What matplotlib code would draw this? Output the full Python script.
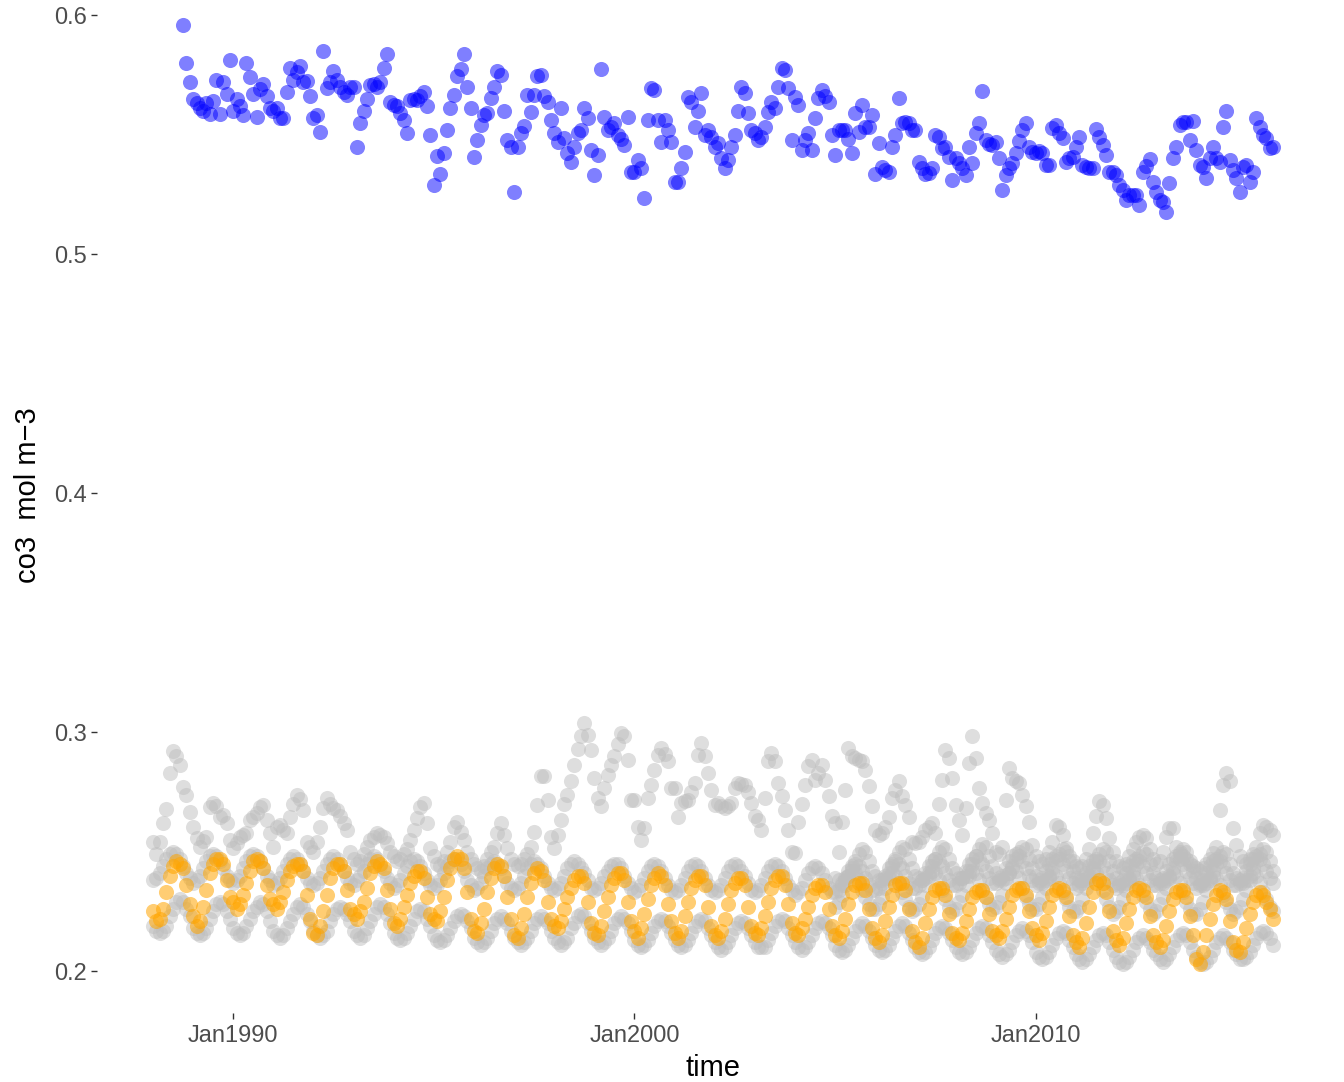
import numpy as np
import pandas as pd
import matplotlib
matplotlib.use("Agg")
import matplotlib.pyplot as plt

plt.rcParams['font.family'] = ['Liberation Sans', 'DejaVu Sans']

# monthly values, one row per year
# blue series starts Oct 1988
blue_rows = [
    [0.596, 0.580, 0.572],
    [0.565, 0.563, 0.561, 0.560, 0.563, 0.5585, 0.564, 0.573, 0.5585, 0.572, 0.567, 0.581],
    [0.560, 0.565, 0.562, 0.558, 0.580, 0.574, 0.567, 0.5575, 0.569, 0.571, 0.566, 0.561],
    [0.5597, 0.561, 0.557, 0.5568, 0.568, 0.578, 0.573, 0.576, 0.5785, 0.572, 0.5724, 0.5663],
    [0.5568, 0.558, 0.551, 0.5848, 0.5694, 0.572, 0.5767, 0.573, 0.570, 0.568, 0.5666, 0.570],
    [0.570, 0.545, 0.5547, 0.560, 0.565, 0.5707, 0.571, 0.570, 0.572, 0.578, 0.5836, 0.5635],
    [0.5623, 0.562, 0.559, 0.556, 0.5505, 0.5645, 0.565, 0.5645, 0.566, 0.568, 0.562, 0.550],
    [0.5289, 0.541, 0.5337, 0.5421, 0.552, 0.561, 0.5665, 0.5744, 0.5773, 0.5838, 0.570, 0.5613],
    [0.5405, 0.5477, 0.554, 0.5582, 0.5589, 0.5655, 0.570, 0.5764, 0.575, 0.560, 0.5477, 0.545],
    [0.526, 0.545, 0.5505, 0.5535, 0.5666, 0.5593, 0.5666, 0.5743, 0.575, 0.566, 0.5638, 0.556],
    [0.5505, 0.547, 0.561, 0.5484, 0.5421, 0.5387, 0.545, 0.5505, 0.5519, 0.561, 0.5568, 0.5435],
    [0.533, 0.5414, 0.5774, 0.5575, 0.5519, 0.553, 0.5547, 0.5498, 0.548, 0.5456, 0.5575, 0.5345],
    [0.5345, 0.5393, 0.5358, 0.5233, 0.5561, 0.5694, 0.5687, 0.556, 0.547, 0.5561, 0.552, 0.547],
    [0.5303, 0.5303, 0.5358, 0.5428, 0.5659, 0.5638, 0.5533, 0.560, 0.5673, 0.5498, 0.552, 0.5491],
    [0.545, 0.5463, 0.540, 0.5358, 0.5393, 0.545, 0.5498, 0.560, 0.5701, 0.5673, 0.5589, 0.5519],
    [0.5505, 0.5477, 0.5491, 0.5533, 0.5596, 0.5638, 0.561, 0.570, 0.5778, 0.5771, 0.5694, 0.5477],
    [0.5659, 0.5624, 0.5435, 0.5477, 0.5505, 0.5435, 0.5568, 0.5652, 0.5687, 0.566, 0.5638, 0.550],
    [0.5414, 0.5519, 0.552, 0.5519, 0.548, 0.5421, 0.5589, 0.5512, 0.5624, 0.5533, 0.5533, 0.5582],
    [0.5337, 0.5463, 0.5366, 0.535, 0.5345, 0.545, 0.5498, 0.5655, 0.5547, 0.5554, 0.5547, 0.552],
    [0.5519, 0.5387, 0.536, 0.5337, 0.534, 0.5358, 0.5498, 0.5491, 0.5442, 0.545, 0.5407, 0.5309],
    [0.540, 0.538, 0.536, 0.533, 0.545, 0.5379, 0.5505, 0.555, 0.5683, 0.5477, 0.546, 0.5456],
    [0.547, 0.540, 0.5267, 0.533, 0.536, 0.5379, 0.5421, 0.5473, 0.5519, 0.5547, 0.545, 0.5428],
    [0.5421, 0.543, 0.5421, 0.5372, 0.5372, 0.5526, 0.554, 0.5505, 0.5484, 0.5387, 0.540, 0.5407],
    [0.545, 0.5491, 0.5372, 0.5366, 0.536, 0.5358, 0.5523, 0.5491, 0.5456, 0.5414, 0.5345, 0.5345],
    [0.533, 0.5289, 0.527, 0.5226, 0.5247, 0.5247, 0.5247, 0.5205, 0.5345, 0.537, 0.5396, 0.530],
    [0.526, 0.5226, 0.5219, 0.5177, 0.5296, 0.540, 0.545, 0.554, 0.5554, 0.5554, 0.5477, 0.5557],
    [0.5435, 0.5372, 0.5366, 0.5317, 0.540, 0.545, 0.540, 0.5387, 0.5533, 0.5599, 0.5393, 0.535],
    [0.5317, 0.526, 0.5366, 0.5372, 0.5303, 0.5345, 0.5571, 0.553, 0.5498, 0.5484, 0.5445, 0.545],
]

# orange series, Jan 1988 - Dec 2015
orange_rows = [
    [0.225, 0.221, 0.222, 0.226, 0.233, 0.240, 0.244, 0.246, 0.245, 0.243, 0.236, 0.228],
    [0.223, 0.219, 0.221, 0.227, 0.234, 0.241, 0.245, 0.247, 0.247, 0.245, 0.238, 0.231],
    [0.229, 0.226, 0.228, 0.232, 0.237, 0.242, 0.246, 0.247, 0.246, 0.243, 0.236, 0.230],
    [0.228, 0.226, 0.229, 0.233, 0.238, 0.242, 0.244, 0.245, 0.245, 0.242, 0.232, 0.222],
    [0.216, 0.215, 0.219, 0.225, 0.232, 0.239, 0.243, 0.245, 0.245, 0.242, 0.234, 0.226],
    [0.224, 0.222, 0.225, 0.229, 0.235, 0.241, 0.244, 0.246, 0.245, 0.243, 0.234, 0.226],
    [0.220, 0.219, 0.222, 0.227, 0.232, 0.237, 0.240, 0.242, 0.242, 0.239, 0.231, 0.224],
    [0.222, 0.221, 0.225, 0.231, 0.238, 0.243, 0.247, 0.248, 0.247, 0.243, 0.233, 0.222],
    [0.217, 0.216, 0.220, 0.226, 0.233, 0.239, 0.243, 0.245, 0.244, 0.240, 0.231, 0.222],
    [0.215, 0.214, 0.218, 0.224, 0.231, 0.237, 0.241, 0.243, 0.242, 0.238, 0.229, 0.222],
    [0.219, 0.218, 0.221, 0.226, 0.231, 0.235, 0.238, 0.240, 0.240, 0.237, 0.229, 0.220],
    [0.216, 0.215, 0.219, 0.225, 0.231, 0.236, 0.239, 0.241, 0.241, 0.238, 0.229, 0.221],
    [0.217, 0.214, 0.218, 0.224, 0.230, 0.236, 0.239, 0.241, 0.240, 0.236, 0.228, 0.221],
    [0.216, 0.214, 0.217, 0.223, 0.229, 0.235, 0.238, 0.240, 0.240, 0.236, 0.227, 0.219],
    [0.215, 0.214, 0.217, 0.222, 0.228, 0.234, 0.237, 0.239, 0.239, 0.236, 0.227, 0.219],
    [0.216, 0.215, 0.218, 0.223, 0.229, 0.235, 0.238, 0.240, 0.240, 0.236, 0.228, 0.220],
    [0.216, 0.215, 0.218, 0.222, 0.227, 0.232, 0.235, 0.236, 0.236, 0.233, 0.226, 0.219],
    [0.215, 0.214, 0.217, 0.222, 0.228, 0.233, 0.236, 0.237, 0.237, 0.234, 0.226, 0.218],
    [0.214, 0.212, 0.215, 0.221, 0.227, 0.232, 0.236, 0.237, 0.237, 0.234, 0.226, 0.217],
    [0.212, 0.210, 0.214, 0.220, 0.226, 0.231, 0.234, 0.235, 0.235, 0.232, 0.224, 0.216],
    [0.214, 0.213, 0.216, 0.221, 0.226, 0.231, 0.233, 0.234, 0.234, 0.231, 0.224, 0.217],
    [0.215, 0.214, 0.217, 0.222, 0.227, 0.232, 0.234, 0.235, 0.235, 0.232, 0.225, 0.218],
    [0.215, 0.213, 0.216, 0.221, 0.227, 0.232, 0.234, 0.235, 0.234, 0.231, 0.223, 0.215],
    [0.212, 0.210, 0.214, 0.220, 0.227, 0.233, 0.237, 0.238, 0.237, 0.233, 0.225, 0.217],
    [0.213, 0.211, 0.214, 0.220, 0.226, 0.231, 0.234, 0.235, 0.234, 0.231, 0.223, 0.215],
    [0.212, 0.210, 0.213, 0.219, 0.225, 0.230, 0.233, 0.234, 0.234, 0.231, 0.223, 0.215],
    [0.205, 0.203, 0.208, 0.215, 0.222, 0.228, 0.232, 0.234, 0.233, 0.230, 0.221, 0.212],
    [0.209, 0.208, 0.212, 0.218, 0.224, 0.229, 0.232, 0.233, 0.232, 0.229, 0.226, 0.222],
]

# grey series, lower smooth cycle, Jan 1988 - Dec 2015
grey_low_rows = [
    [0.219, 0.217, 0.216, 0.217, 0.219, 0.223, 0.226, 0.229, 0.230, 0.229, 0.226, 0.223],
    [0.218, 0.216, 0.215, 0.216, 0.218, 0.222, 0.225, 0.228, 0.229, 0.228, 0.225, 0.222],
    [0.218, 0.216, 0.215, 0.216, 0.219, 0.222, 0.225, 0.227, 0.229, 0.228, 0.225, 0.221],
    [0.217, 0.215, 0.214, 0.215, 0.218, 0.221, 0.224, 0.227, 0.228, 0.227, 0.224, 0.221],
    [0.217, 0.215, 0.214, 0.215, 0.217, 0.221, 0.224, 0.226, 0.227, 0.226, 0.224, 0.221],
    [0.217, 0.215, 0.214, 0.215, 0.218, 0.221, 0.224, 0.227, 0.228, 0.227, 0.224, 0.220],
    [0.216, 0.214, 0.213, 0.214, 0.216, 0.219, 0.222, 0.225, 0.226, 0.225, 0.222, 0.219],
    [0.215, 0.213, 0.212, 0.213, 0.215, 0.218, 0.221, 0.223, 0.224, 0.223, 0.221, 0.218],
    [0.214, 0.212, 0.211, 0.212, 0.214, 0.217, 0.220, 0.222, 0.223, 0.222, 0.220, 0.217],
    [0.214, 0.212, 0.211, 0.212, 0.214, 0.217, 0.220, 0.222, 0.223, 0.222, 0.220, 0.217],
    [0.214, 0.212, 0.211, 0.212, 0.214, 0.218, 0.220, 0.223, 0.224, 0.223, 0.220, 0.217],
    [0.214, 0.212, 0.211, 0.212, 0.214, 0.217, 0.220, 0.222, 0.223, 0.222, 0.220, 0.217],
    [0.213, 0.211, 0.210, 0.211, 0.213, 0.216, 0.219, 0.221, 0.222, 0.221, 0.219, 0.216],
    [0.213, 0.211, 0.210, 0.211, 0.213, 0.216, 0.219, 0.221, 0.222, 0.221, 0.218, 0.215],
    [0.212, 0.210, 0.209, 0.210, 0.212, 0.215, 0.218, 0.220, 0.221, 0.220, 0.218, 0.215],
    [0.212, 0.210, 0.210, 0.210, 0.213, 0.216, 0.219, 0.221, 0.222, 0.221, 0.218, 0.215],
    [0.212, 0.210, 0.209, 0.210, 0.212, 0.215, 0.218, 0.220, 0.221, 0.220, 0.218, 0.215],
    [0.211, 0.209, 0.208, 0.209, 0.211, 0.214, 0.217, 0.219, 0.220, 0.219, 0.217, 0.214],
    [0.211, 0.209, 0.208, 0.209, 0.211, 0.214, 0.217, 0.219, 0.220, 0.219, 0.216, 0.213],
    [0.210, 0.208, 0.207, 0.208, 0.210, 0.213, 0.216, 0.218, 0.219, 0.218, 0.216, 0.213],
    [0.210, 0.208, 0.207, 0.208, 0.210, 0.213, 0.216, 0.218, 0.219, 0.218, 0.215, 0.212],
    [0.209, 0.207, 0.206, 0.207, 0.209, 0.212, 0.215, 0.217, 0.218, 0.217, 0.215, 0.212],
    [0.208, 0.206, 0.205, 0.206, 0.208, 0.211, 0.214, 0.216, 0.217, 0.216, 0.213, 0.210],
    [0.207, 0.205, 0.204, 0.205, 0.207, 0.210, 0.213, 0.215, 0.216, 0.215, 0.212, 0.209],
    [0.206, 0.204, 0.203, 0.204, 0.206, 0.209, 0.212, 0.214, 0.215, 0.214, 0.212, 0.209],
    [0.207, 0.205, 0.204, 0.205, 0.207, 0.210, 0.213, 0.215, 0.216, 0.215, 0.212, 0.209],
    [0.206, 0.204, 0.203, 0.204, 0.206, 0.209, 0.212, 0.214, 0.215, 0.214, 0.212, 0.209],
    [0.207, 0.205, 0.205, 0.206, 0.208, 0.211, 0.214, 0.216, 0.217, 0.216, 0.214, 0.211],
]

# grey series, middle band, Jan 1988 - Dec 2015
grey_mid_rows = [
    [0.238, 0.239, 0.241, 0.244, 0.247, 0.249, 0.250, 0.249, 0.247, 0.244, 0.241, 0.239],
    [0.237, 0.238, 0.240, 0.243, 0.246, 0.248, 0.249, 0.248, 0.246, 0.243, 0.240, 0.238],
    [0.237, 0.238, 0.240, 0.243, 0.246, 0.248, 0.249, 0.248, 0.246, 0.243, 0.240, 0.238],
    [0.236, 0.237, 0.239, 0.242, 0.245, 0.247, 0.248, 0.247, 0.245, 0.242, 0.239, 0.237],
    [0.236, 0.237, 0.239, 0.242, 0.245, 0.247, 0.248, 0.247, 0.245, 0.242, 0.239, 0.237],
    [0.236, 0.238, 0.240, 0.242, 0.245, 0.247, 0.248, 0.247, 0.244, 0.242, 0.239, 0.237],
    [0.235, 0.236, 0.238, 0.241, 0.244, 0.246, 0.247, 0.246, 0.244, 0.241, 0.238, 0.236],
    [0.235, 0.236, 0.238, 0.241, 0.244, 0.246, 0.247, 0.247, 0.245, 0.242, 0.238, 0.236],
    [0.234, 0.235, 0.237, 0.240, 0.243, 0.245, 0.246, 0.245, 0.243, 0.240, 0.237, 0.235],
    [0.234, 0.235, 0.237, 0.240, 0.243, 0.245, 0.246, 0.245, 0.243, 0.240, 0.237, 0.235],
    [0.234, 0.235, 0.237, 0.240, 0.243, 0.245, 0.246, 0.245, 0.243, 0.241, 0.238, 0.235],
    [0.234, 0.235, 0.237, 0.240, 0.242, 0.244, 0.245, 0.245, 0.243, 0.240, 0.237, 0.235],
    [0.233, 0.234, 0.236, 0.239, 0.242, 0.244, 0.245, 0.244, 0.242, 0.239, 0.236, 0.234],
    [0.233, 0.234, 0.236, 0.239, 0.242, 0.244, 0.245, 0.244, 0.242, 0.239, 0.236, 0.234],
    [0.233, 0.234, 0.236, 0.239, 0.242, 0.244, 0.245, 0.244, 0.242, 0.240, 0.237, 0.234],
    [0.233, 0.234, 0.236, 0.239, 0.242, 0.244, 0.245, 0.244, 0.242, 0.239, 0.236, 0.234],
    [0.232, 0.233, 0.235, 0.238, 0.241, 0.243, 0.244, 0.243, 0.241, 0.238, 0.235, 0.233],
    [0.233, 0.234, 0.236, 0.239, 0.242, 0.244, 0.245, 0.244, 0.242, 0.239, 0.236, 0.234],
    [0.234, 0.235, 0.237, 0.240, 0.243, 0.245, 0.246, 0.245, 0.243, 0.240, 0.237, 0.235],
    [0.235, 0.236, 0.238, 0.241, 0.244, 0.246, 0.247, 0.246, 0.244, 0.241, 0.238, 0.236],
    [0.236, 0.237, 0.239, 0.242, 0.245, 0.247, 0.248, 0.247, 0.245, 0.242, 0.239, 0.237],
    [0.237, 0.238, 0.240, 0.243, 0.246, 0.248, 0.249, 0.248, 0.246, 0.243, 0.240, 0.238],
    [0.236, 0.237, 0.239, 0.242, 0.245, 0.247, 0.248, 0.247, 0.245, 0.242, 0.239, 0.237],
    [0.235, 0.236, 0.238, 0.241, 0.244, 0.246, 0.247, 0.246, 0.244, 0.241, 0.238, 0.236],
    [0.235, 0.236, 0.238, 0.241, 0.244, 0.246, 0.247, 0.246, 0.244, 0.241, 0.238, 0.236],
    [0.236, 0.237, 0.239, 0.242, 0.245, 0.247, 0.248, 0.247, 0.245, 0.242, 0.239, 0.237],
    [0.235, 0.236, 0.238, 0.241, 0.244, 0.246, 0.247, 0.246, 0.244, 0.241, 0.238, 0.236],
    [0.236, 0.237, 0.239, 0.242, 0.245, 0.247, 0.248, 0.247, 0.245, 0.242, 0.239, 0.237],
]

# grey series, noisy upper one, Jan 1988 - Dec 2015
grey_high_rows = [
    [0.254, 0.249, 0.254, 0.262, 0.268, 0.283, 0.292, 0.290, 0.2864, 0.2772, 0.2738, 0.2667],
    [0.2604, 0.2558, 0.252, 0.2545, 0.2562, 0.2688, 0.2704, 0.269, 0.2646, 0.2654, 0.262, 0.255],
    [0.2516, 0.2537, 0.2562, 0.257, 0.2579, 0.2633, 0.2646, 0.266, 0.2688, 0.2696, 0.2633, 0.258],
    [0.252, 0.2604, 0.2612, 0.259, 0.2579, 0.2646, 0.270, 0.2738, 0.272, 0.2675, 0.2541, 0.252],
    [0.250, 0.2541, 0.2604, 0.2683, 0.2725, 0.270, 0.2683, 0.2675, 0.265, 0.262, 0.2591, 0.2499],
    [0.247, 0.245, 0.246, 0.249, 0.252, 0.255, 0.256, 0.2579, 0.257, 0.2562, 0.2537, 0.250],
    [0.248, 0.246, 0.247, 0.249, 0.251, 0.255, 0.2591, 0.264, 0.2688, 0.2704, 0.262, 0.2516],
    [0.248, 0.245, 0.244, 0.246, 0.250, 0.254, 0.2605, 0.2626, 0.2584, 0.2549, 0.250, 0.247],
    [0.245, 0.243, 0.242, 0.244, 0.247, 0.250, 0.2521, 0.258, 0.2619, 0.257, 0.2514, 0.247],
    [0.245, 0.244, 0.245, 0.247, 0.249, 0.2521, 0.2584, 0.2696, 0.2815, 0.2815, 0.2717, 0.2563],
    [0.2514, 0.257, 0.2633, 0.270, 0.2738, 0.2794, 0.2864, 0.293, 0.2982, 0.3038, 0.2989, 0.2927],
    [0.2808, 0.2724, 0.2689, 0.2766, 0.282, 0.2864, 0.2899, 0.295, 0.2996, 0.2982, 0.2885, 0.2717],
    [0.2717, 0.2605, 0.2549, 0.2598, 0.2724, 0.278, 0.2843, 0.2906, 0.2934, 0.291, 0.2878, 0.2766],
    [0.2766, 0.2647, 0.2703, 0.271, 0.2717, 0.275, 0.2787, 0.2906, 0.2955, 0.2899, 0.2829, 0.2759],
    [0.2696, 0.2703, 0.269, 0.2682, 0.269, 0.2703, 0.2766, 0.2787, 0.2784, 0.278, 0.275, 0.2703],
    [0.265, 0.2633, 0.2591, 0.2724, 0.2878, 0.2913, 0.288, 0.2787, 0.2731, 0.2675, 0.2591, 0.250],
    [0.2493, 0.2626, 0.270, 0.278, 0.2857, 0.2885, 0.2801, 0.283, 0.2864, 0.280, 0.2731, 0.265],
    [0.2619, 0.250, 0.2626, 0.2759, 0.2934, 0.290, 0.2892, 0.2885, 0.2878, 0.2843, 0.2773, 0.2689],
    [0.2591, 0.257, 0.258, 0.2605, 0.2647, 0.2724, 0.276, 0.2794, 0.2731, 0.2696, 0.2647, 0.2542],
    [0.2535, 0.254, 0.2563, 0.259, 0.2605, 0.2619, 0.2577, 0.270, 0.2801, 0.2927, 0.2892, 0.2808],
    [0.2696, 0.2633, 0.257, 0.2682, 0.2871, 0.2982, 0.2892, 0.2766, 0.2703, 0.266, 0.2633, 0.2577],
    [0.250, 0.249, 0.252, 0.2717, 0.285, 0.2808, 0.2794, 0.2787, 0.2738, 0.2689, 0.2626, 0.2528],
    [0.248, 0.246, 0.245, 0.247, 0.250, 0.254, 0.2612, 0.2605, 0.257, 0.2514, 0.248, 0.246],
    [0.244, 0.243, 0.244, 0.247, 0.251, 0.258, 0.265, 0.271, 0.2696, 0.264, 0.2556, 0.250],
    [0.246, 0.244, 0.243, 0.245, 0.248, 0.251, 0.254, 0.256, 0.257, 0.2556, 0.251, 0.247],
    [0.245, 0.246, 0.250, 0.256, 0.2598, 0.2598, 0.2521, 0.250, 0.248, 0.247, 0.245, 0.244],
    [0.243, 0.242, 0.243, 0.245, 0.247, 0.2493, 0.252, 0.2675, 0.278, 0.2829, 0.2794, 0.2598],
    [0.2528, 0.248, 0.246, 0.245, 0.247, 0.249, 0.2521, 0.2577, 0.2612, 0.2605, 0.259, 0.257],
]

# two more grey series that start in Jan 2005
grey_late_a_rows = [
    [0.227, 0.229, 0.232, 0.236, 0.240, 0.242, 0.241, 0.238, 0.234, 0.231, 0.228, 0.226],
    [0.226, 0.228, 0.231, 0.235, 0.239, 0.241, 0.240, 0.237, 0.233, 0.230, 0.227, 0.225],
    [0.226, 0.228, 0.231, 0.236, 0.240, 0.242, 0.241, 0.238, 0.234, 0.230, 0.227, 0.225],
    [0.226, 0.229, 0.232, 0.236, 0.240, 0.242, 0.241, 0.238, 0.234, 0.231, 0.228, 0.226],
    [0.227, 0.229, 0.232, 0.237, 0.241, 0.243, 0.242, 0.239, 0.235, 0.231, 0.228, 0.226],
    [0.226, 0.228, 0.231, 0.235, 0.239, 0.241, 0.240, 0.237, 0.233, 0.230, 0.227, 0.225],
    [0.225, 0.227, 0.230, 0.235, 0.239, 0.242, 0.241, 0.238, 0.234, 0.230, 0.227, 0.224],
    [0.225, 0.227, 0.230, 0.234, 0.238, 0.240, 0.239, 0.236, 0.232, 0.229, 0.226, 0.224],
    [0.225, 0.228, 0.231, 0.235, 0.239, 0.241, 0.240, 0.237, 0.233, 0.229, 0.226, 0.224],
    [0.224, 0.226, 0.229, 0.234, 0.238, 0.240, 0.239, 0.236, 0.232, 0.229, 0.226, 0.224],
    [0.225, 0.227, 0.230, 0.234, 0.238, 0.241, 0.240, 0.237, 0.233, 0.230, 0.227, 0.225],
]
grey_late_b_rows = [
    [0.239, 0.238, 0.237, 0.238, 0.240, 0.243, 0.246, 0.249, 0.251, 0.250, 0.246, 0.242],
    [0.240, 0.238, 0.238, 0.239, 0.241, 0.244, 0.247, 0.250, 0.252, 0.251, 0.247, 0.243],
    [0.240, 0.239, 0.238, 0.239, 0.241, 0.244, 0.247, 0.250, 0.252, 0.251, 0.247, 0.243],
    [0.241, 0.239, 0.239, 0.240, 0.242, 0.245, 0.248, 0.251, 0.253, 0.252, 0.248, 0.244],
    [0.241, 0.239, 0.238, 0.239, 0.241, 0.244, 0.247, 0.250, 0.252, 0.251, 0.247, 0.243],
    [0.240, 0.238, 0.237, 0.238, 0.240, 0.243, 0.246, 0.249, 0.251, 0.250, 0.246, 0.242],
    [0.239, 0.238, 0.237, 0.238, 0.240, 0.243, 0.246, 0.249, 0.251, 0.250, 0.246, 0.242],
    [0.239, 0.237, 0.236, 0.237, 0.239, 0.242, 0.245, 0.248, 0.250, 0.249, 0.245, 0.241],
    [0.239, 0.238, 0.237, 0.238, 0.240, 0.243, 0.246, 0.249, 0.251, 0.250, 0.246, 0.242],
    [0.239, 0.237, 0.236, 0.237, 0.239, 0.242, 0.245, 0.248, 0.250, 0.249, 0.245, 0.241],
    [0.239, 0.238, 0.237, 0.238, 0.240, 0.243, 0.246, 0.249, 0.251, 0.250, 0.246, 0.242],
]

def flat(rows):
    return np.array([v for r in rows for v in r])

def months(start, vals):
    return pd.date_range(start, periods=len(vals), freq="MS")

blue = flat(blue_rows)
orange = flat(orange_rows)
grey_series = [
    ("1988-01-01", flat(grey_low_rows)),
    ("1988-01-01", flat(grey_mid_rows)),
    ("1988-01-01", flat(grey_high_rows)),
    ("2005-01-01", flat(grey_late_a_rows)),
    ("2005-01-01", flat(grey_late_b_rows)),
]

fig = plt.figure(figsize=(13.44, 10.82), dpi=100)
ax = fig.add_axes([97/1344, 69/1082, 1239/1344, 1008/1082])

dot = 118
for start, vals in grey_series:
    ax.scatter(months(start, vals), vals, s=dot, color='#BEBEBE', alpha=0.5, linewidths=0)
ax.scatter(months("1988-01-01", orange), orange, s=dot, color='#FFA500', alpha=0.55, linewidths=0)
ax.scatter(months("1988-10-01", blue), blue, s=dot, color='#0000FF', alpha=0.5, linewidths=0)

ax.set_xlim(pd.Timestamp("1986-08-10"), pd.Timestamp("2017-06-25"))
ax.set_ylim(0.1825, 0.6042)

yt = [0.2, 0.3, 0.4, 0.5, 0.6]
ax.set_yticks(yt)
ax.set_yticklabels(['0.2', '0.3', '0.4', '0.5', '0.6'])
xt = [pd.Timestamp("1990-01-01"), pd.Timestamp("2000-01-01"), pd.Timestamp("2010-01-01")]
ax.set_xticks(xt)
ax.set_xticklabels(['Jan1990', 'Jan2000', 'Jan2010'])

for s in ax.spines.values():
    s.set_visible(False)
ax.tick_params(axis='both', length=4.5, width=1.0, color='#333333', labelcolor='#4D4D4D',
               labelsize=17)
ax.tick_params(axis='y', pad=3)
ax.tick_params(axis='x', pad=4.5)

# axis titles placed like ggplot's
fig.text(713/1344, 1 - 1068/1082, 'time', fontsize=21, color='black', ha='center', va='center')
fig.text(28/1344, 1 - 495/1082, 'co3  mol m\u22123', fontsize=21, color='black',
         rotation=90, ha='center', va='center')

fig.savefig('out.png', dpi=100)
